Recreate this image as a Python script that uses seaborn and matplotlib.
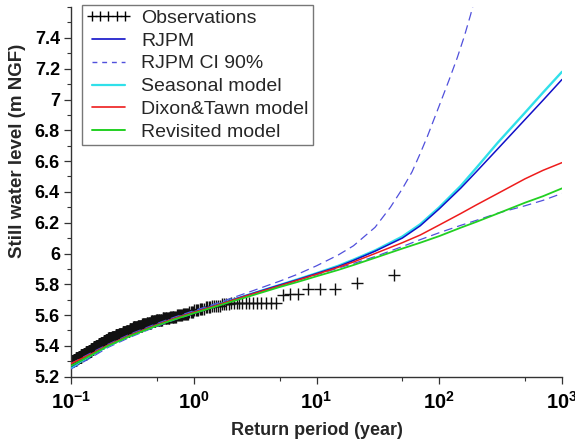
import numpy as np
import pandas as pd
import matplotlib
matplotlib.use("Agg")
import matplotlib.pyplot as plt
import seaborn as sns
from matplotlib.lines import Line2D
from matplotlib.ticker import FixedLocator, FixedFormatter, MultipleLocator, LogLocator, NullFormatter

# ---------------- data ----------------
# Observations: sorted water levels (m NGF) and how many records sit at each level
obs_levels = [5.86, 5.81, 5.77, 5.74, 5.73,
              5.68, 5.67, 5.66, 5.65, 5.64, 5.63, 5.62, 5.61, 5.60, 5.59,
              5.58, 5.57, 5.56, 5.55, 5.54, 5.53, 5.52, 5.51, 5.50, 5.49,
              5.48, 5.47, 5.46, 5.45, 5.44, 5.43, 5.42, 5.41, 5.40, 5.39,
              5.38, 5.37, 5.36, 5.35, 5.34, 5.33, 5.32, 5.31, 5.30]
obs_counts = [1, 1, 3, 2, 1,
              13, 4, 5, 4, 4, 4, 4, 6, 6, 8,
              10, 10, 8, 8, 9, 10, 11, 9, 9, 11,
              11, 12, 12, 14, 10, 10, 12, 11, 12, 13,
              13, 14, 15, 15, 16, 17, 17, 19, 18]
record_years = 42.4  # empirical return period = record length / rank

T_models = [0.1, 0.15, 0.2, 0.3, 0.5, 0.7, 1, 1.5, 2, 3, 5, 7, 10,
            15, 20, 30, 50, 70, 100, 150, 200, 300, 500, 700, 1000]
seasonal  = [5.26, 5.345, 5.40, 5.465, 5.535, 5.578, 5.618, 5.662, 5.695, 5.74, 5.795, 5.832, 5.872,
             5.92, 5.96, 6.02, 6.11, 6.19, 6.30, 6.44, 6.555, 6.72, 6.915, 7.045, 7.18]
rjpm      = [5.265, 5.35, 5.405, 5.468, 5.538, 5.58, 5.62, 5.663, 5.695, 5.74, 5.795, 5.83, 5.87,
             5.915, 5.955, 6.015, 6.10, 6.18, 6.29, 6.425, 6.53, 6.68, 6.87, 6.995, 7.13]
dixon     = [5.285, 5.352, 5.405, 5.468, 5.537, 5.579, 5.618, 5.661, 5.693, 5.737, 5.79, 5.826, 5.865,
             5.91, 5.945, 6.00, 6.07, 6.12, 6.185, 6.26, 6.315, 6.39, 6.485, 6.54, 6.59]
revisited = [5.27, 5.345, 5.40, 5.463, 5.532, 5.573, 5.612, 5.655, 5.686, 5.728, 5.782, 5.815, 5.852,
             5.893, 5.925, 5.972, 6.032, 6.07, 6.113, 6.168, 6.205, 6.26, 6.33, 6.372, 6.423]
ci_low    = [5.25, 5.33, 5.39, 5.455, 5.527, 5.57, 5.61, 5.655, 5.688, 5.732, 5.788, 5.825, 5.862,
             5.905, 5.935, 5.98, 6.045, 6.09, 6.135, 6.183, 6.215, 6.262, 6.31, 6.345, 6.39]

T_ci_up = [0.1, 0.15, 0.2, 0.3, 0.5, 0.7, 1, 1.5, 2, 3, 5, 7, 10, 15, 20, 30, 40, 50,
           60, 70, 80, 100, 120, 140, 160, 180, 200]
ci_up   = [5.285, 5.36, 5.41, 5.475, 5.545, 5.587, 5.628, 5.674, 5.708, 5.757, 5.82, 5.865, 5.92,
           5.99, 6.05, 6.17, 6.30, 6.42, 6.53, 6.65, 6.76, 6.96, 7.125, 7.27, 7.41, 7.55, 7.69]

x_tick_vals = [0.1, 1, 10, 100, 1000]
x_tick_labels = [r"$10^{-1}$", r"$10^{0}$", r"$10^{1}$", r"$10^{2}$", r"$10^{3}$"]
y_tick_vals = [5.2, 5.4, 5.6, 5.8, 6.0, 6.2, 6.4, 6.6, 6.8, 7.0, 7.2, 7.4]
y_tick_labels = ["5.2", "5.4", "5.6", "5.8", "6", "6.2", "6.4", "6.6", "6.8", "7", "7.2", "7.4"]

legend_labels = ["Observations", "RJPM", "RJPM CI 90%", "Seasonal model",
                 "Dixon&Tawn model", "Revisited model"]

# ---------------- style ----------------
sns.set_style("ticks")
plt.rcParams["font.family"] = ["Liberation Sans", "DejaVu Sans"]
plt.rcParams["mathtext.fontset"] = "custom"
plt.rcParams["mathtext.rm"] = "Liberation Sans:bold"
plt.rcParams["mathtext.it"] = "Liberation Sans:bold"
plt.rcParams["mathtext.bf"] = "Liberation Sans:bold"

c_obs = "#111111"
c_rjpm = "#1010c8"
c_ci = "#5050dc"
c_seas = "#30e0ea"
c_dixon = "#ee1c1c"
c_rev = "#22d022"

fig = plt.figure(figsize=(5.75, 4.43), dpi=100)
ax = fig.add_axes([71 / 575, 1 - 376.7 / 443, (562 - 71) / 575, (376.7 - 7.1) / 443])

# observations
obs_y = np.repeat(obs_levels, obs_counts)
obs_rank = np.arange(1, len(obs_y) + 1)
obs_df = pd.DataFrame({"T": record_years / obs_rank, "level": obs_y})
sns.scatterplot(data=obs_df, x="T", y="level", marker="+", s=85, color=c_obs,
                linewidth=1.0, ax=ax, legend=False, zorder=2)

models = pd.DataFrame({"T": T_models, "rjpm": rjpm, "seasonal": seasonal,
                       "dixon": dixon, "revisited": revisited, "ci_low": ci_low})
up_df = pd.DataFrame({"T": T_ci_up, "ci_up": ci_up})

sns.lineplot(data=up_df, x="T", y="ci_up", color=c_ci, lw=0.9, ax=ax,
             estimator=None, linestyle=(0, (7, 4)), zorder=3)
sns.lineplot(data=models, x="T", y="ci_low", color=c_ci, lw=0.9, ax=ax,
             estimator=None, linestyle=(0, (7, 4)), zorder=3)
sns.lineplot(data=models, x="T", y="seasonal", color=c_seas, lw=1.7, ax=ax,
             estimator=None, zorder=4)
sns.lineplot(data=models, x="T", y="rjpm", color=c_rjpm, lw=1.1, ax=ax,
             estimator=None, zorder=4)
sns.lineplot(data=models, x="T", y="dixon", color=c_dixon, lw=1.1, ax=ax,
             estimator=None, zorder=4)
sns.lineplot(data=models, x="T", y="revisited", color=c_rev, lw=1.3, ax=ax,
             estimator=None, zorder=4)

ax.set_xscale("log")
ax.set_xlim(0.1, 1000)
ax.set_ylim(5.2, 7.6)

ax.xaxis.set_major_locator(FixedLocator(x_tick_vals))
ax.xaxis.set_major_formatter(FixedFormatter(x_tick_labels))
ax.xaxis.set_minor_locator(LogLocator(base=10, subs=[5.0]))
ax.xaxis.set_minor_formatter(NullFormatter())
ax.yaxis.set_major_locator(FixedLocator(y_tick_vals))
ax.yaxis.set_major_formatter(FixedFormatter(y_tick_labels))
ax.yaxis.set_minor_locator(MultipleLocator(0.1))

axis_col = "#333333"
for s in ["left", "bottom"]:
    ax.spines[s].set_color(axis_col)
    ax.spines[s].set_linewidth(1.0)
sns.despine(ax=ax)
ax.tick_params(axis="both", which="major", direction="out", length=5, width=0.9,
               colors=axis_col, labelcolor="black")
ax.tick_params(axis="both", which="minor", direction="out", length=3, width=0.8,
               colors=axis_col)
ax.tick_params(axis="x", labelsize=14.5, pad=5)
ax.tick_params(axis="y", labelsize=13, pad=3)
for t in ax.get_yticklabels():
    t.set_fontweight("bold")

ax.set_xlabel("Return period (year)", fontsize=13, fontweight="bold", labelpad=7)
ax.set_ylabel("Still water level (m NGF)", fontsize=13.5, fontweight="bold")
ax.yaxis.set_label_coords(-0.091, 0.61)

handles = [
    Line2D([], [], ls="none", marker="+", color="black", ms=6.5, mew=1.0),
    Line2D([], [], color=c_rjpm, lw=1.2),
    Line2D([], [], color=c_ci, lw=1.0, ls=(0, (3.5, 3.5))),
    Line2D([], [], color=c_seas, lw=1.6),
    Line2D([], [], color=c_dixon, lw=1.2),
    Line2D([], [], color=c_rev, lw=1.4),
]
leg = ax.legend(handles, legend_labels, loc="upper left", bbox_to_anchor=(0.0224, 1.005),
                borderaxespad=0, numpoints=5, fontsize=14, handlelength=2.3,
                handletextpad=0.55, labelspacing=0.27, borderpad=0.2,
                frameon=True, fancybox=False, framealpha=1, edgecolor="#777777")
leg.get_frame().set_linewidth(1.0)

fig.savefig("out.png", dpi=100)
